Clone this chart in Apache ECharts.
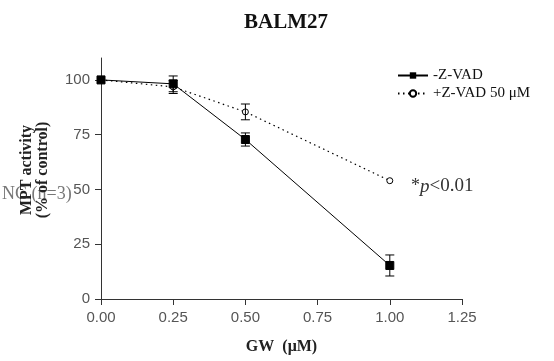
<!DOCTYPE html>
<html><head><meta charset="utf-8">
<script src="https://cdn.jsdelivr.net/npm/echarts@6/dist/echarts.min.js"></script>
<style>html,body{margin:0;padding:0;background:#fff}#c{width:554px;height:361px}</style>
</head><body><div id="c"></div>
<script>
// Data
const doses = [0, 0.25, 0.5, 1.0];
const minusZVAD = [100, 98.2, 72.8, 15.3];
const minusZVADErr = [0, 3.6, 3.0, 4.8];
const plusZVAD = [100, 96.8, 85.4, 54];
const plusZVADErr = [0, 3.0, 3.6, 0];
const yTickValues = [0, 25, 50, 75, 100];
const seriesNames = ['-Z-VAD', '+Z-VAD 50 \u03bcM'];

const serif = '"Liberation Serif", "DejaVu Serif", serif';
const sans = '"Liberation Sans", Arial, sans-serif';

function pairs(vals) { return doses.map((d, i) => [d, vals[i]]); }
function errRows(vals, errs) {
  const out = [];
  doses.forEach((d, i) => { if (errs[i] > 0) out.push([d, vals[i] - errs[i], vals[i] + errs[i]]); });
  return out;
}
function renderErr(params, api) {
  const x = api.value(0);
  const lo = api.coord([x, api.value(1)]);
  const hi = api.coord([x, api.value(2)]);
  const w = 4.5;
  const st = { stroke: '#000', lineWidth: 1 };
  return { type: 'group', children: [
    { type: 'line', shape: { x1: lo[0], y1: lo[1], x2: hi[0], y2: hi[1] }, style: st },
    { type: 'line', shape: { x1: lo[0] - w, y1: lo[1], x2: lo[0] + w, y2: lo[1] }, style: st },
    { type: 'line', shape: { x1: hi[0] - w, y1: hi[1], x2: hi[0] + w, y2: hi[1] }, style: st }
  ]};
}

const chart = echarts.init(document.getElementById('c'), null, { renderer: 'canvas' });
chart.setOption({
  animation: false,
  backgroundColor: '#fff',
  title: {
    text: 'BALM27', left: 281, top: 7, textAlign: 'center',
    textStyle: { fontFamily: serif, fontWeight: 'bold', fontSize: 21, color: '#111' }
  },
  legend: {
    orient: 'vertical', left: 392, top: 63, itemWidth: 30, itemHeight: 8, itemGap: 3,
    data: seriesNames,
    textStyle: { fontFamily: serif, fontSize: 15, color: '#111', padding: [0, 0, 0, 0] }
  },
  grid: { left: 101, right: 92, top: 58, bottom: 62 },
  xAxis: {
    type: 'value', min: 0, max: 1.25, interval: 0.25,
    name: 'GW  (\u03bcM)', nameLocation: 'middle', nameGap: 40,
    nameTextStyle: { fontFamily: serif, fontWeight: 'bold', fontSize: 16, color: '#222' },
    axisLine: { lineStyle: { color: '#333', width: 1 } },
    axisTick: { length: 6, lineStyle: { color: '#333' } },
    axisLabel: { margin: 11, fontFamily: sans, fontSize: 15, color: '#555', formatter: v => v.toFixed(2) },
    splitLine: { show: false }
  },
  yAxis: {
    type: 'value', min: 0, max: 110,
    axisLine: { show: true, lineStyle: { color: '#333', width: 1 } },
    axisTick: { show: true, length: 6, customValues: yTickValues, lineStyle: { color: '#333' } },
    axisLabel: { margin: 11, fontFamily: sans, fontSize: 15, color: '#555', customValues: yTickValues },
    splitLine: { show: false }
  },
  graphic: [
    { type: 'text', x: 2, y: 185, style: { text: 'NC (n=3)', font: '18px ' + serif, fill: '#777' } },
    { type: 'text', x: 35, y: 170, rotation: Math.PI / 2,
      style: { text: 'MPT activity\n(% of control)', font: 'bold 16px ' + serif, fill: '#222',
               align: 'center', verticalAlign: 'middle', lineHeight: 16 } },
    { type: 'text', x: 411, y: 177,
      style: { text: '{a|*}{b|p}{c|<0.01}', fill: '#333',
               rich: { a: { font: '18px ' + serif, fill: '#333' },
                       b: { font: 'italic 19px ' + serif, fill: '#333' },
                       c: { font: '19px ' + serif, fill: '#333' } } } }
  ],
  series: [
    {
      name: seriesNames[0], type: 'line', data: pairs(minusZVAD),
      symbol: 'rect', symbolSize: 8, z: 4,
      lineStyle: { color: '#000', width: 1, type: 'solid' },
      itemStyle: { color: '#000', borderColor: '#000' }
    },
    {
      name: seriesNames[1], type: 'line', data: pairs(plusZVAD),
      symbol: 'circle', symbolSize: 6, z: 3,
      lineStyle: { color: '#000', width: 1.2, type: [1.5, 3.5] },
      itemStyle: { color: '#fff', borderColor: '#000', borderWidth: 1 }
    },
    { type: 'custom', renderItem: renderErr, data: errRows(minusZVAD, minusZVADErr), z: 5, encode: { x: 0, y: [1, 2] } },
    { type: 'custom', renderItem: renderErr, data: errRows(plusZVAD, plusZVADErr), z: 5, encode: { x: 0, y: [1, 2] } }
  ]
});
</script>
</body></html>
